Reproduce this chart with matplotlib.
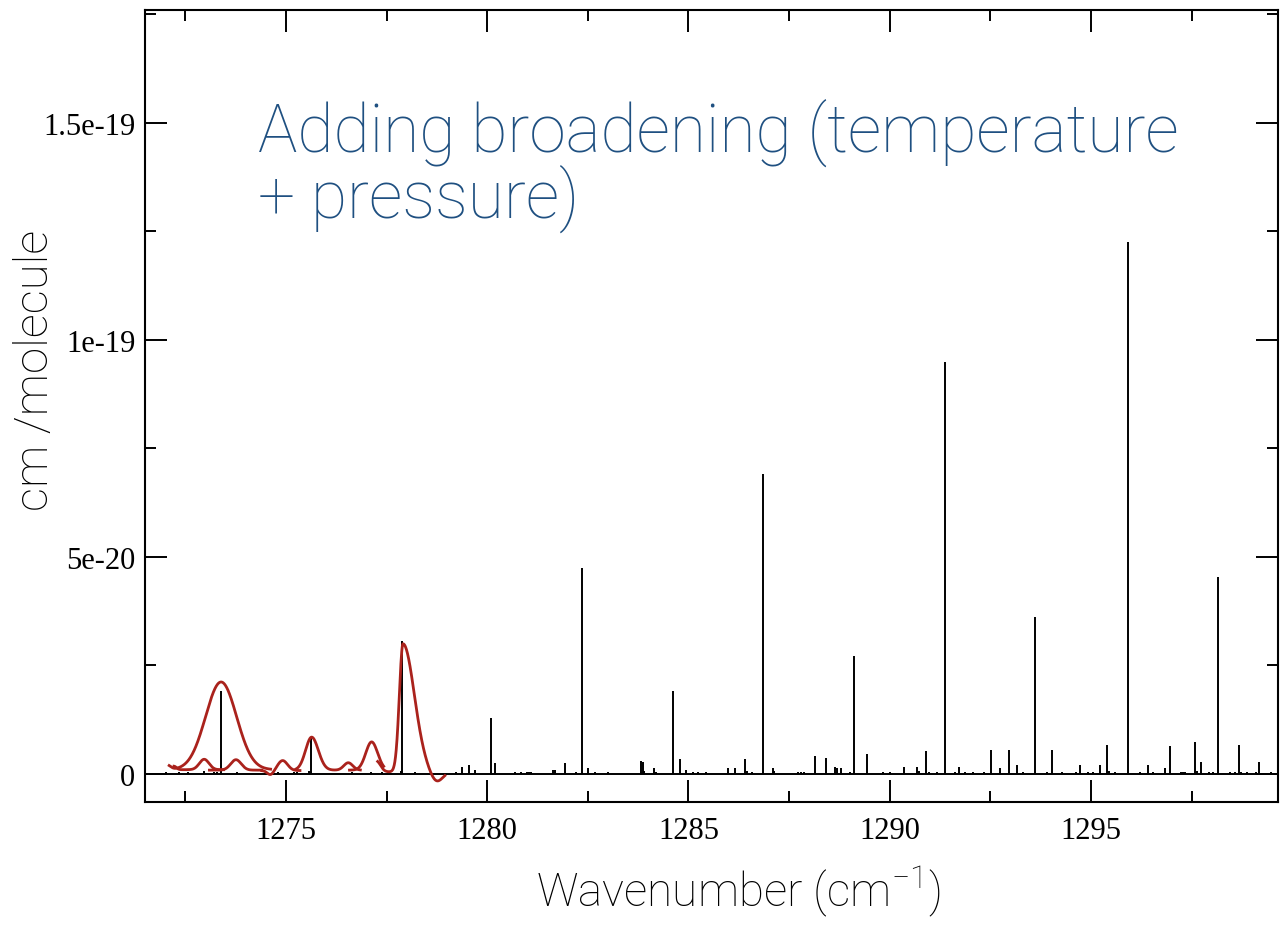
import numpy as np
import matplotlib.pyplot as plt
from matplotlib.ticker import MultipleLocator

# strong lines (stick spectrum), wavenumber in cm-1, intensity in cm/molecule
main_pos = [1273.38, 1275.63, 1277.88, 1280.09, 1282.36, 1284.61,
            1286.86, 1289.12, 1291.37, 1293.62, 1295.92, 1298.17]
main_int = [1.92e-20, 8.2e-21, 3.07e-20, 1.29e-20, 4.74e-20, 1.92e-20,
            6.92e-20, 2.73e-20, 9.48e-20, 3.62e-20, 1.226e-19, 4.53e-20]

# weak lines
weak_pos = [1272.01, 1272.34, 1272.56, 1272.97, 1273.21, 1273.29, 1273.78, 1274.81,
            1275.20, 1275.27, 1275.58, 1276.64, 1277.11, 1277.40, 1277.86, 1278.22,
            1279.22, 1279.37, 1279.55, 1279.69, 1280.20, 1280.70, 1280.84, 1280.98,
            1281.05, 1281.10, 1281.63, 1281.68, 1281.94, 1282.22, 1282.50, 1282.68,
            1283.00, 1283.82, 1283.86, 1283.90, 1284.14, 1284.19, 1284.79, 1284.93,
            1285.12, 1285.25, 1285.43, 1285.98, 1286.17, 1286.40, 1286.45, 1286.57,
            1287.09, 1287.13, 1287.73, 1287.79, 1287.87, 1288.15, 1288.43, 1288.65,
            1288.70, 1288.79, 1289.01, 1289.44, 1289.84, 1290.02, 1290.35, 1290.68,
            1290.73, 1290.91, 1290.98, 1291.18, 1291.62, 1291.73, 1291.87, 1292.06,
            1292.35, 1292.52, 1292.75, 1292.97, 1293.16, 1293.32, 1293.90, 1294.03,
            1294.27, 1294.64, 1294.72, 1294.93, 1295.04, 1295.22, 1295.40, 1295.45,
            1295.60, 1296.23, 1296.41, 1296.54, 1296.83, 1296.96, 1297.25, 1297.29,
            1297.33, 1297.58, 1297.64, 1297.74, 1297.94, 1298.04, 1298.45, 1298.58,
            1298.68, 1298.72, 1298.87, 1299.10, 1299.18, 1299.47]
weak_int = [4e-22, 4e-22, 4e-22, 7e-22, 4e-22, 4e-22, 5e-22, 4e-22,
            5e-22, 5e-22, 8e-22, 4e-22, 4e-22, 4e-22, 8e-22, 4e-22,
            4e-22, 1.7e-21, 2.1e-21, 9e-22, 2.6e-21, 4e-22, 4e-22, 4e-22,
            4e-22, 4e-22, 9e-22, 9e-22, 2.6e-21, 4e-22, 1.3e-21, 4e-22,
            4e-22, 2.9e-21, 2.7e-21, 8e-22, 1.3e-21, 4e-22, 3.5e-21, 9e-22,
            4e-22, 4e-22, 4e-22, 1.3e-21, 1.3e-21, 3.5e-21, 8e-22, 4e-22,
            1.3e-21, 6e-22, 4e-22, 4e-22, 4e-22, 4.2e-21, 3.8e-21, 1.7e-21,
            1.3e-21, 1.3e-21, 4e-22, 4.6e-21, 4e-22, 4e-22, 1.7e-21, 1.7e-21,
            6e-22, 5.2e-21, 4e-22, 4e-22, 4e-22, 1.7e-21, 4e-22, 4e-22,
            4e-22, 5.5e-21, 1.3e-21, 5.5e-21, 2.1e-21, 4e-22, 4e-22, 5.5e-21,
            4e-22, 4e-22, 2.1e-21, 4e-22, 4e-22, 2.1e-21, 6.8e-21, 6e-22,
            4e-22, 4e-22, 2.1e-21, 4e-22, 1.3e-21, 6.4e-21, 4e-22, 4e-22,
            4e-22, 7.3e-21, 6e-22, 2.7e-21, 4e-22, 4e-22, 4e-22, 4e-22,
            6.8e-21, 4e-22, 4e-22, 4e-22, 2.7e-21, 4e-22]

# broadened profiles (red), one entry per drawn segment
# each peak: (centre, amplitude, sigma left, sigma right)
red_start = [1272.10, 1272.22, 1273.10, 1274.40, 1275.25, 1276.58, 1277.28]
red_end = [1274.62, 1273.45, 1274.40, 1275.35, 1276.85, 1277.43, 1278.95]
red_base = [1.0e-21, 1.0e-21, 0.9e-21, 0.8e-21, 0.9e-21, 0.9e-21, 0.5e-21]
red_peaks = [
    [(1273.39, 2.02e-20, 0.385, 0.385), (1272.06, 1.0e-21, 0.08, 0.08)],
    [(1272.97, 2.4e-21, 0.12, 0.12), (1272.22, 0.8e-21, 0.06, 0.06)],
    [(1273.76, 2.4e-21, 0.13, 0.13)],
    [(1274.92, 2.3e-21, 0.12, 0.12), (1274.62, -1.0e-21, 0.08, 0.08)],
    [(1275.64, 7.6e-21, 0.15, 0.165), (1276.55, 1.7e-21, 0.11, 0.11)],
    [(1277.13, 6.5e-21, 0.145, 0.15)],
    [(1277.91, 2.95e-20, 0.09, 0.28), (1278.74, -2.4e-21, 0.15, 0.15),
     (1277.25, 2.5e-21, 0.1, 0.1)],
]

y_ticks = [0, 5e-20, 1e-19, 1.5e-19]
y_labels = ['0', '5e-20', '1e-19', '1.5e-19']

red = '#aa221c'
blue = '#1f5081'
label_font = ['Roboto', 'DejaVu Sans']

plt.rcParams['mathtext.fontset'] = 'custom'
plt.rcParams['mathtext.rm'] = 'Roboto:light'
plt.rcParams['mathtext.default'] = 'rm'

fig = plt.figure(figsize=(12.81, 9.29), dpi=100)
ax = fig.add_axes([0.1132, 0.1356, 0.8845, 0.8526])

ax.axhline(0, color='black', lw=1.4, zorder=1)
ax.vlines(weak_pos, 0, weak_int, color='black', lw=1.4, zorder=2)
ax.vlines(main_pos, 0, main_int, color='black', lw=1.4, zorder=2)

for x0, x1, base, peaks in zip(red_start, red_end, red_base, red_peaks):
    x = np.linspace(x0, x1, 400)
    y = np.full_like(x, base)
    for c, a, sl, sr in peaks:
        s = np.where(x < c, sl, sr)
        y += a * np.exp(-0.5 * ((x - c) / s) ** 2)
    ax.plot(x, y, color=red, lw=2.0, zorder=3)

ax.set_xlim(1271.5, 1299.65)
ax.set_ylim(-6.45e-21, 1.76e-19)
ax.xaxis.set_major_locator(MultipleLocator(5))
ax.xaxis.set_minor_locator(MultipleLocator(2.5))
ax.set_yticks(y_ticks, y_labels)
ax.yaxis.set_minor_locator(MultipleLocator(2.5e-20))

ax.tick_params(which='both', direction='in', top=True, right=True, width=1.4,
               labelsize=22, labelfontfamily='Liberation Serif', colors='black')
ax.tick_params(which='major', length=16)
ax.tick_params(which='minor', length=8)
ax.tick_params(axis='x', pad=10)
ax.tick_params(axis='y', pad=7)
for sp in ax.spines.values():
    sp.set_linewidth(1.5)

fig.text(0.2014, 1 - 152 / 929, 'Adding broadening (temperature', color=blue,
         fontsize=47.5, family=label_font, weight='light', ha='left', va='baseline')
fig.text(0.2014, 1 - 218 / 929, '+ pressure)', color=blue,
         fontsize=47.5, family=label_font, weight='light', ha='left', va='baseline')

fig.text(0.576, 1 - 906 / 929, 'Wavenumber (cm$^{-1}$)', fontsize=33,
         family=label_font, weight='light', ha='center', va='baseline')
fig.text(0.027, 1 - 370 / 929, 'cm /molecule', fontsize=34, rotation=90,
         family=label_font, weight='light', ha='center', va='center')

fig.savefig('out.png', dpi=100)
